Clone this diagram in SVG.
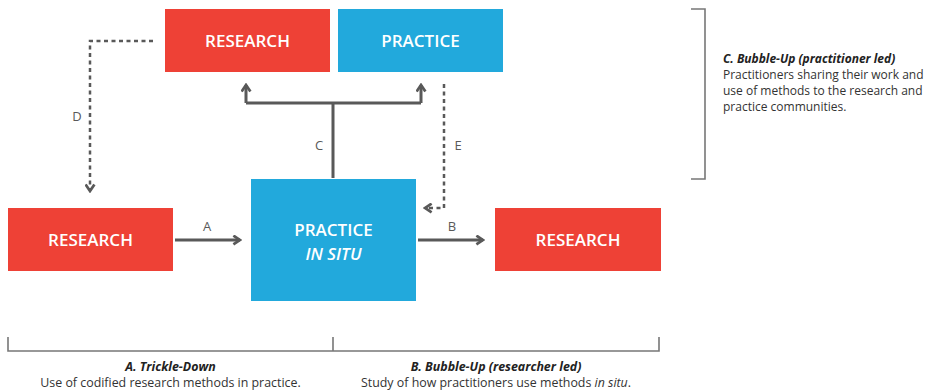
<svg xmlns="http://www.w3.org/2000/svg" width="937" height="392" viewBox="0 0 937 392">
<style>
.red{fill:#EE4136}
.blue{fill:#22A9DC}
.lbl{font-family:"Open Sans","Noto Sans",sans-serif;font-weight:600;font-size:17px;fill:#ffffff;text-anchor:middle}
.conn{fill:none;stroke:#595959;stroke-width:3}
.dash{fill:none;stroke:#595959;stroke-width:2.5;stroke-dasharray:4 3.5}
.letter{font-family:"Open Sans","Noto Sans",sans-serif;font-size:13px;fill:#595959;text-anchor:middle}
.brk{fill:none;stroke:#777777;stroke-width:1.6}
.body{font-family:"Open Sans","Noto Sans",sans-serif;font-size:12.4px;fill:#333333}
.head{font-family:"Open Sans","Noto Sans",sans-serif;font-size:12.4px;font-weight:700;font-style:italic;fill:#222222}
.side{font-size:12px}
</style>
<defs>
<marker id="arr" viewBox="0 0 10 10" refX="8" refY="5" markerWidth="11" markerHeight="11" markerUnits="userSpaceOnUse" orient="auto">
<path d="M2,1 L8,5 L2,9" fill="none" stroke="#595959" stroke-width="2.5" stroke-dasharray="none"/>
</marker>
</defs>
<rect width="937" height="392" fill="#ffffff"/>
<g id="connectors">
<path class="dash" d="M153,41 H90 V191" marker-end="url(#arr)"/>
<path class="conn" d="M333,178 V103 M246,103 H421"/>
<path class="conn" d="M246,103 V85" marker-end="url(#arr)"/>
<path class="conn" d="M421,103 V85" marker-end="url(#arr)"/>
<path class="dash" d="M444,84 V208 H425" marker-end="url(#arr)"/>
<path class="conn" d="M175,240 H240" marker-end="url(#arr)"/>
<path class="conn" d="M418,240 H483" marker-end="url(#arr)"/>
<text class="letter" x="77" y="121">D</text>
<text class="letter" x="319" y="150">C</text>
<text class="letter" x="458" y="150">E</text>
<text class="letter" x="207" y="231">A</text>
<text class="letter" x="452" y="231">B</text>
</g>
<g id="research-top">
<rect class="red" x="165" y="9" width="165" height="63"/>
<text class="lbl" x="247.5" y="47">RESEARCH</text>
</g>
<g id="practice-top">
<rect class="blue" x="338" y="9" width="165" height="63"/>
<text class="lbl" x="420.5" y="47">PRACTICE</text>
</g>
<g id="research-left">
<rect class="red" x="8" y="208" width="165" height="63"/>
<text class="lbl" x="90.5" y="246">RESEARCH</text>
</g>
<g id="practice-in-situ">
<rect class="blue" x="251" y="179" width="165" height="122"/>
<text class="lbl" x="333.5" y="236">PRACTICE</text>
<text class="lbl" x="333.5" y="260" font-style="italic">IN SITU</text>
</g>
<g id="research-right">
<rect class="red" x="495" y="208" width="166" height="63"/>
<text class="lbl" x="578" y="246">RESEARCH</text>
</g>
<g id="bracket-c">
<path class="brk" d="M691,9 H705 V179 H691"/>
<text class="head side" x="723" y="63">C. Bubble-Up (practitioner led)</text>
<text class="body side" x="723" y="79">Practitioners sharing their work and</text>
<text class="body side" x="723" y="95">use of methods to the research and</text>
<text class="body side" x="723" y="111">practice communities.</text>
</g>
<g id="bracket-ab">
<path class="brk" d="M8,337 V351 H659 V337 M333,337 V351"/>
<text class="head" x="170.5" y="371" text-anchor="middle">A. Trickle-Down</text>
<text class="body" x="170.5" y="387" text-anchor="middle">Use of codified research methods in practice.</text>
<text class="head" x="496" y="371" text-anchor="middle">B. Bubble-Up (researcher led)</text>
<text class="body" x="496" y="387" text-anchor="middle">Study of how practitioners use methods <tspan font-style="italic">in situ</tspan>.</text>
</g>
</svg>
